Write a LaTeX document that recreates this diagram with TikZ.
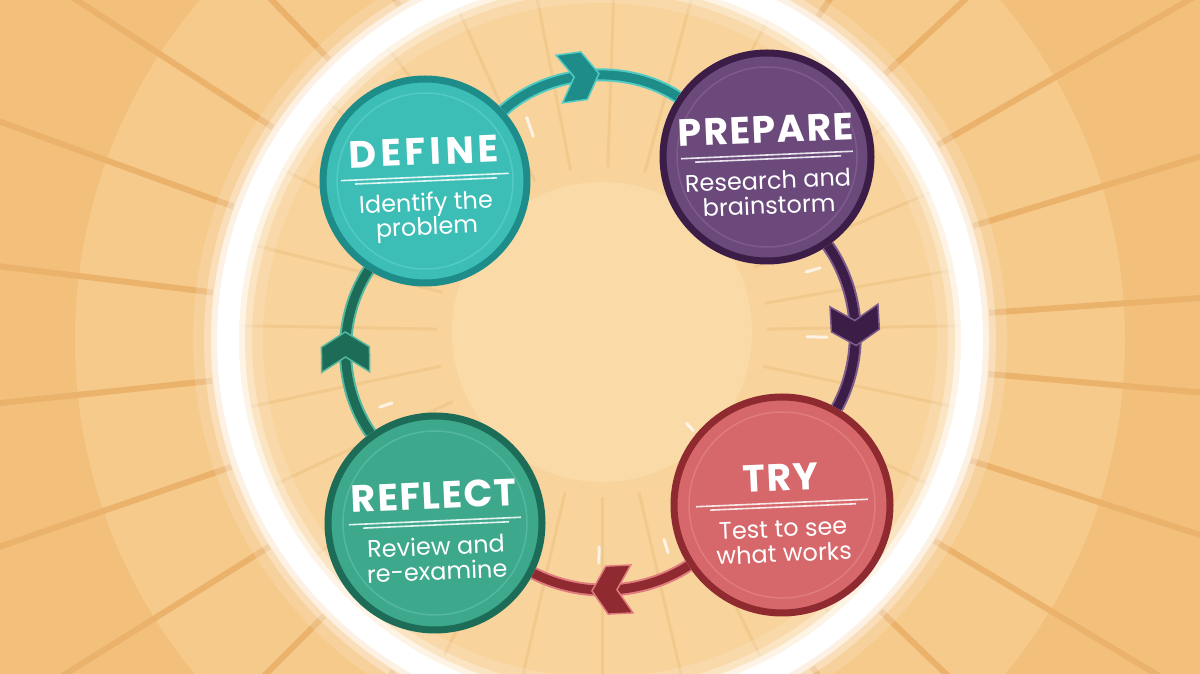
\documentclass[tikz,border=0pt]{standalone}
\usepackage{fontspec}
\setmainfont{Poppins}
\usetikzlibrary{positioning,decorations.markings}
\definecolor{fondo}{HTML}{F3C07C}
\definecolor{banda}{HTML}{F6CA8B}
\definecolor{rayo}{HTML}{EBB26B}
\definecolor{interior}{HTML}{F8D39B}
\definecolor{rayoint}{HTML}{F2C98C}
\definecolor{centro}{HTML}{FADBA8}
\definecolor{tealD}{HTML}{1E8C89}
\definecolor{tealF}{HTML}{3CBEB6}
\definecolor{tealL}{HTML}{52CBC3}
\definecolor{purD}{HTML}{3B1D47}
\definecolor{purF}{HTML}{6B4A7B}
\definecolor{purL}{HTML}{7D5C8C}
\definecolor{redD}{HTML}{8E2A30}
\definecolor{redF}{HTML}{D6676A}
\definecolor{redL}{HTML}{E07C7E}
\definecolor{greD}{HTML}{1C6C58}
\definecolor{greF}{HTML}{3EA88D}
\definecolor{greL}{HTML}{55B89E}
\begin{document}
\begin{tikzpicture}[x=1pt,y=1pt,
  phase/.style 2 args={circle,line width=7,draw=#1,fill=#2,inner sep=0},
  title/.style={text=white,anchor=base,font=\bfseries\fontsize{38}{38}\selectfont\addfontfeatures{LetterSpace=4}},
  sub/.style={text=white,anchor=base,inner sep=0,font=\fontsize{24}{24}\selectfont},
  rule/.style={white,opacity=0.85,line width=1.6},
  loopline/.style n args={3}{line width=9,draw=#1,preaction={draw=#2,line width=13},
    postaction={decorate},decoration={markings,mark=at position #3 with
    {\filldraw[fill=#1,draw=#2,line width=1.5] (20,0) -- (5,24) -- (-20,24) -- (-5,0) -- (-20,-24) -- (5,-24) -- cycle;}}}]
\useasboundingbox (0,0) rectangle (1200,674);
% fondo con rayos
\begin{scope}
  \clip (0,0) rectangle (1200,674);
  \fill[fondo] (0,0) rectangle (1200,674);
  \fill[banda] (600,334) circle[radius=525];
  \foreach \a in {4,17,...,364} \draw[rayo,line width=6] (600,334) ++(\a:390) -- ++(\a:700);
  \fill[interior] (600,334) circle[radius=372];
  \foreach \a in {10,23,...,370} \draw[rayoint,line width=3] (602,342) ++(\a:165) -- ++(\a:195);
  \fill[centro] (602,342) circle[radius=150];
  % anillo blanco
  \draw[white,opacity=0.15,line width=70] (600,334) circle[radius=372];
  \draw[white,opacity=0.3,line width=48] (600,334) circle[radius=372];
  \draw[white,opacity=0.6,line width=34] (600,334) circle[radius=372];
  \draw[white,line width=22] (600,334) circle[radius=372];
\end{scope}
% trazos de movimiento
\foreach \x/\y/\a/\l in {530/547/109/20, 813/404/16/15, 817/337/-1/20, 599/119/-91/16, 666/128/-73/14, 690/247/-47/10, 386/269/199/13}
  \draw[white,opacity=0.75,line width=3,line cap=round] (\x,\y) ++(\a:-\l/2) -- ++(\a:\l);
% las cuatro fases
\node[phase={tealD}{tealF},minimum size=204] (define) at (425,493) {};
\node[phase={purD}{purF},minimum size=208] (prepare) at (767,517) {};
\node[phase={redD}{redF},minimum size=216] (try) at (782,169) {};
\node[phase={greD}{greF},minimum size=214] (reflect) at (435,151) {};
% ciclo
\draw[loopline={tealD}{tealL}{0.45}] (define) to[bend left=38,looseness=0.9] (prepare);
\draw[loopline={purD}{purL}{0.5}] (prepare) to[bend left=32,looseness=0.9] (try);
\draw[loopline={redD}{redL}{0.5}] (try) to[bend left=30,looseness=0.9] (reflect);
\draw[loopline={greD}{greL}{0.5}] (reflect) to[bend left=34,looseness=0.9] (define);
% anillos interiores
\draw[tealL,line width=1.5] (define) circle[radius=88];
\draw[purL,line width=1.5] (prepare) circle[radius=90];
\draw[redL,line width=1.5] (try) circle[radius=93];
\draw[greL,line width=1.5] (reflect) circle[radius=92];
% textos
\begin{scope}[shift={(define.center)},rotate=2.5,transform shape]
  \node[title,font=\bfseries\fontsize{38}{38}\selectfont\addfontfeatures{LetterSpace=11}] (defineT) at (0,16) {DEFINE};
  \draw[rule] (-84,4) -- (84,4);
  \draw[rule] (-70,0) -- (72,0);
  \node[sub] (defineS) at (0,-30) {Identify the};
  \node[sub] (defineS2) at (0,-54) {problem};
\end{scope}
\begin{scope}[shift={(prepare.center)},rotate=2.5,transform shape]
  \node[title] (prepareT) at (0,14) {PREPARE};
  \draw[rule] (-86,2) -- (86,2);
  \draw[rule] (-72,-2) -- (74,-2);
  \node[sub] (prepareS) at (0,-32) {Research and};
  \node[sub] (prepareS2) at (0,-57) {brainstorm};
\end{scope}
\begin{scope}[shift={(try.center)},rotate=2.5,transform shape]
  \node[title] (tryT) at (0,14) {TRY};
  \draw[rule] (-86,2) -- (86,2);
  \draw[rule] (-72,-2) -- (74,-2);
  \node[sub] (tryS) at (0,-32) {Test to see};
  \node[sub] (tryS2) at (0,-57) {what works};
\end{scope}
\begin{scope}[shift={(reflect.center)},rotate=2.5,transform shape]
  \node[title] (reflectT) at (0,14) {REFLECT};
  \draw[rule] (-86,2) -- (86,2);
  \draw[rule] (-72,-2) -- (74,-2);
  \node[sub] (reflectS) at (0,-32) {Review and};
  \node[sub] (reflectS2) at (0,-57) {re-examine};
\end{scope}
\end{tikzpicture}
\end{document}
